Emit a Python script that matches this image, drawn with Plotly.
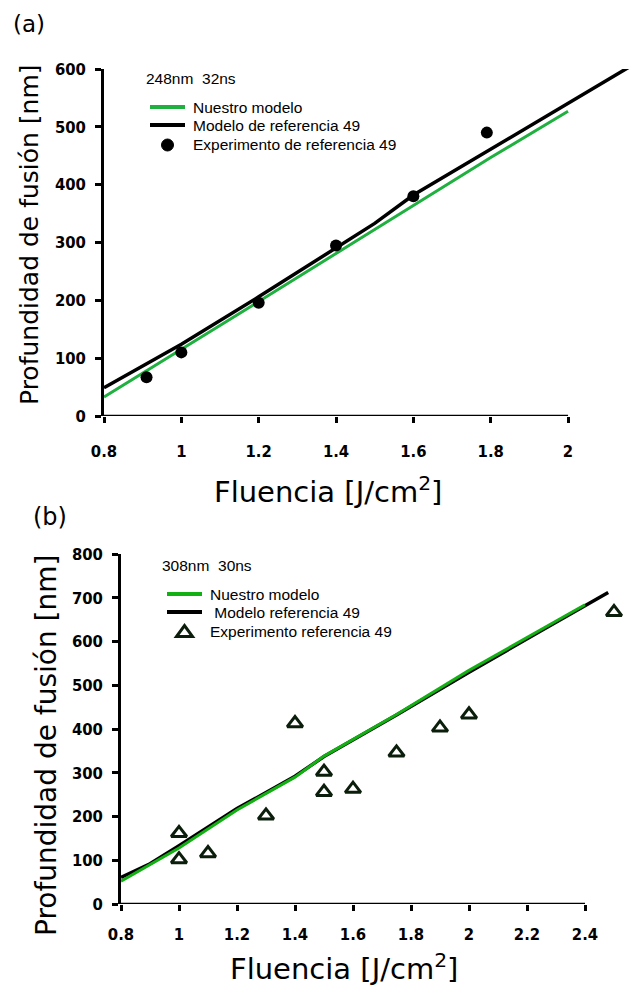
import plotly.graph_objects as go

# ---------- Panel (a): 248nm 32ns ----------
a_model_x = [0.8, 1.0, 1.2, 1.4, 1.6, 1.8, 2.0]
a_model_y = [33, 115, 198, 281, 364, 447, 527]
a_ref_x = [0.8, 1.0, 1.2, 1.4, 1.5, 1.6, 1.8, 2.0, 2.2]
a_ref_y = [49, 124, 206, 290, 333, 382, 462, 542, 620]
a_exp_x = [0.91, 1.0, 1.2, 1.4, 1.6, 1.79]
a_exp_y = [67, 110, 196, 295, 380, 490]
a_xticks = [0.8, 1, 1.2, 1.4, 1.6, 1.8, 2]
a_yticks = [0, 100, 200, 300, 400, 500, 600]
a_names = ["Nuestro modelo", "Modelo de referencia 49", "Experimento de referencia 49"]

# ---------- Panel (b): 308nm 30ns ----------
b_model_x = [0.8, 1.0, 1.2, 1.4, 1.5, 1.75, 2.0, 2.2, 2.4]
b_model_y = [52, 128, 215, 290, 338, 433, 534, 610, 684]
b_ref_x = [0.8, 0.9, 1.0, 1.2, 1.4, 1.5, 1.75, 2.0, 2.25, 2.48]
b_ref_y = [61, 92, 133, 218, 292, 337, 432, 530, 625, 712]
b_exp_x = [1.0, 1.0, 1.1, 1.3, 1.4, 1.5, 1.5, 1.6, 1.75, 1.9, 2.0, 2.5]
b_exp_y = [162, 102, 116, 202, 413, 302, 256, 263, 346, 403, 433, 667]
b_xticks = [0.8, 1, 1.2, 1.4, 1.6, 1.8, 2, 2.2, 2.4]
b_yticks = [0, 100, 200, 300, 400, 500, 600, 700, 800]
b_names = ["Nuestro modelo", " Modelo referencia 49", "Experimento referencia 49"]

W, H = 632, 988
GREEN_A = "#1fb040"
GREEN_B = "#13b013"
TRI = "#0b1e0b"

fig = go.Figure()

# panel a traces
fig.add_trace(go.Scatter(x=a_ref_x, y=a_ref_y, mode="lines", name=a_names[1],
                         line=dict(color="black", width=3.5), xaxis="x", yaxis="y"))
fig.add_trace(go.Scatter(x=a_model_x, y=a_model_y, mode="lines", name=a_names[0],
                         line=dict(color=GREEN_A, width=3), xaxis="x", yaxis="y"))
fig.add_trace(go.Scatter(x=a_exp_x, y=a_exp_y, mode="markers", name=a_names[2],
                         marker=dict(color="black", size=12, symbol="circle"), xaxis="x", yaxis="y"))

# panel b traces
fig.add_trace(go.Scatter(x=b_ref_x, y=b_ref_y, mode="lines", name=b_names[1],
                         line=dict(color="black", width=3.5), xaxis="x2", yaxis="y2"))
fig.add_trace(go.Scatter(x=b_model_x, y=b_model_y, mode="lines", name=b_names[0],
                         line=dict(color=GREEN_B, width=3), xaxis="x2", yaxis="y2"))
fig.add_trace(go.Scatter(x=b_exp_x, y=b_exp_y, mode="markers", name=b_names[2],
                         marker=dict(color="white", size=13.5, symbol="triangle-up",
                                     line=dict(color=TRI, width=3)),
                         xaxis="x2", yaxis="y2"))

tickfont = dict(family="DejaVu Sans Condensed", size=16.5, color="black", weight="bold")

def xax(domain, rng, ticks, anchor, standoff):
    return dict(domain=domain, range=rng, tickvals=ticks, ticktext=[str(t) for t in ticks],
                showline=False, zeroline=False, showgrid=False, ticks="outside",
                ticklen=6, tickwidth=2.5, tickcolor="black", tickfont=tickfont,
                ticklabelstandoff=standoff, anchor=anchor, fixedrange=True, automargin=False)

def yax(domain, rng, ticks, anchor):
    return dict(domain=domain, range=rng, tickvals=ticks, showline=True, linecolor="black",
                linewidth=2.5, zeroline=False, showgrid=False, ticks="outside", ticklen=6,
                tickwidth=2.5, tickcolor="black", tickfont=tickfont, ticklabelstandoff=6,
                anchor=anchor, fixedrange=True, automargin=False)

a_x0, a_x1 = 104, 632
a_ytop, a_ybot = 69, 416
b_x0, b_x1 = 121, 632
b_ytop, b_ybot = 554, 904

a_xrange = [0.8, 0.8 + (a_x1 - a_x0) / 386.7]
b_xrange = [0.8, 0.8 + (b_x1 - b_x0) / 290.0]

fig.update_layout(
    width=W, height=H, autosize=False,
    margin=dict(l=0, r=0, t=0, b=0, pad=0, autoexpand=False),
    paper_bgcolor="white", plot_bgcolor="white", showlegend=False,
    xaxis=xax([a_x0 / W, a_x1 / W], a_xrange, a_xticks, "y", 14),
    yaxis=yax([1 - a_ybot / H, 1 - a_ytop / H], [0, 600], a_yticks, "x"),
    xaxis2=xax([b_x0 / W, b_x1 / W], b_xrange, b_xticks, "y2", 9),
    yaxis2=yax([1 - b_ybot / H, 1 - b_ytop / H], [0, 800], b_yticks, "x2"),
)

# x-axis baselines ending at the last tick
fig.add_shape(type="line", xref="x", yref="y", x0=a_xticks[0], x1=a_xticks[-1], y0=0, y1=0,
              line=dict(color="black", width=2.5))
fig.add_shape(type="line", xref="x2", yref="y2", x0=b_xticks[0], x1=b_xticks[-1], y0=0, y1=0,
              line=dict(color="black", width=2.5))

def px(x):
    return x / W

def py(y):
    return 1 - y / H

title_font_x = dict(family="DejaVu Sans", size=29, color="black")
leg_font = dict(family="Liberation Sans", size=15.5, color="black")

def ann(text, x, y, font, **kw):
    fig.add_annotation(text=text, x=px(x), y=py(y), xref="paper", yref="paper",
                       showarrow=False, font=font, **kw)

# ----- legends (drawn by hand so the item spacing matches) -----
def legend(names, colors, x_line0, x_line1, x_text, ys, marker):
    for i in range(2):
        fig.add_shape(type="line", xref="paper", yref="paper",
                      x0=px(x_line0), x1=px(x_line1), y0=py(ys[i]), y1=py(ys[i]),
                      line=dict(color=colors[i], width=4))
    cx = (x_line0 + x_line1) / 2
    cy = ys[2]
    if marker == "circle":
        r = 6
        fig.add_shape(type="circle", xref="paper", yref="paper",
                      x0=px(cx - r), x1=px(cx + r), y0=py(cy + r), y1=py(cy - r),
                      fillcolor="black", line=dict(color="black", width=1))
    else:
        hw, hh = 8, 5.5
        path = (f"M {px(cx - hw)} {py(cy + hh)} L {px(cx + hw)} {py(cy + hh)} "
                f"L {px(cx)} {py(cy - hh)} Z")
        fig.add_shape(type="path", xref="paper", yref="paper", path=path,
                      fillcolor="white", line=dict(color=TRI, width=3))
    for i, n in enumerate(names):
        ann(n.replace(" ", "&nbsp;", 1) if n.startswith(" ") else n,
            x_text, ys[i], leg_font, xanchor="left", yanchor="middle")

legend(a_names, [GREEN_A, "black"], 150, 185, 191, [107, 125, 145], "circle")
legend(b_names, [GREEN_B, "black"], 167, 202, 208, [594, 612, 631], "triangle")

ann("(a)", 11, 24, dict(family="DejaVu Sans", size=23, color="black"), xanchor="left", yanchor="middle")
ann("(b)", 31, 517, dict(family="DejaVu Sans", size=24, color="black"), xanchor="left", yanchor="middle")
ann("248nm  32ns", 144, 78, leg_font, xanchor="left", yanchor="middle")
ann("308nm  30ns", 160, 565, leg_font, xanchor="left", yanchor="middle")
ann("Fluencia [J/cm<sup>2</sup>]", 328, 490, title_font_x, xanchor="center", yanchor="middle")
ann("Fluencia [J/cm<sup>2</sup>]", 344, 967, title_font_x, xanchor="center", yanchor="middle")
ann("Profundidad de fusión [nm]", 29, 235, dict(family="DejaVu Sans", size=25, color="black"),
    xanchor="center", yanchor="middle", textangle=-90)
ann("Profundidad de fusión [nm]", 46, 746, dict(family="DejaVu Sans", size=28, color="black"),
    xanchor="center", yanchor="middle", textangle=-90)

fig.write_html("out.html", post_script="document.body.style.margin='0px';")
